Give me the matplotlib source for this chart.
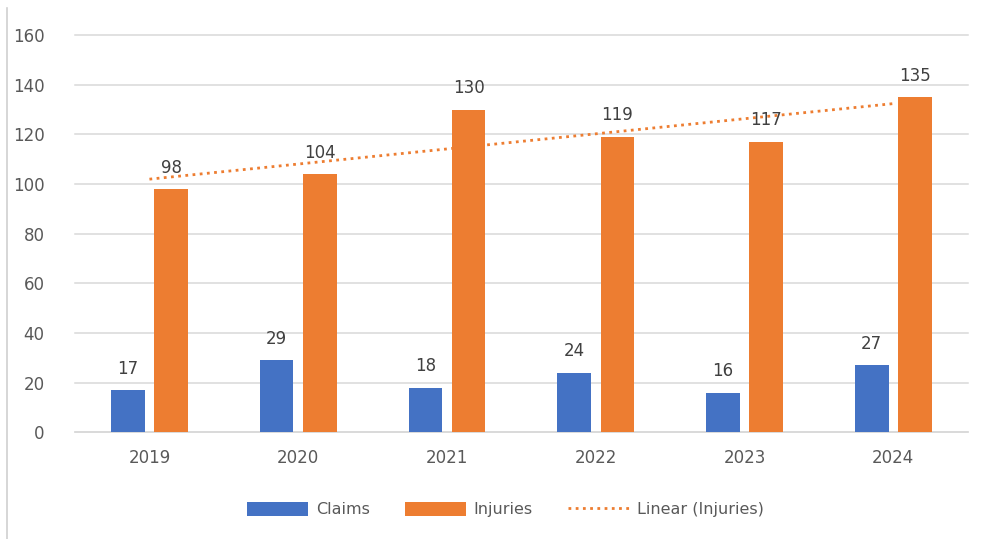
import numpy as np
import matplotlib.pyplot as plt
from matplotlib.lines import Line2D

years = ["2019", "2020", "2021", "2022", "2023", "2024"]
claims = [17, 29, 18, 24, 16, 27]
injuries = [98, 104, 130, 119, 117, 135]

BLUE = "#4472C4"
ORANGE = "#ED7D31"
GRID = "#D9D9D9"
TXT = "#595959"

plt.rcParams['font.family'] = ['DejaVu Sans']

fig = plt.figure(figsize=(9.81, 5.39), dpi=100)
ax = fig.add_axes([0.0765, 0.198, 0.910, 0.737])

x = np.arange(len(years))
w = 0.225
off = 0.145

b1 = ax.bar(x - off, claims, w, color=BLUE, label="Claims", zorder=3)
b2 = ax.bar(x + off, injuries, w, color=ORANGE, label="Injuries", zorder=3)

# linear trendline on injuries (like Excel's)
k, c = np.polyfit(x + 1, injuries, 1)
tl, = ax.plot(x, k * (x + 1) + c, color=ORANGE, linestyle=(0, (1, 1.6)), linewidth=2,
              label="Linear (Injuries)", zorder=4)

for rect, v in zip(b1, claims):
    ax.text(rect.get_x() + rect.get_width() / 2, v + 5, str(v), ha="center", va="bottom",
            fontsize=12, color="#404040", zorder=5)
for rect, v in zip(b2, injuries):
    ax.text(rect.get_x() + rect.get_width() / 2, v + 5, str(v), ha="center", va="bottom",
            fontsize=12, color="#404040", zorder=5)

ax.set_xlim(-0.5, len(years) - 0.5)
ax.set_ylim(0, 160)
ax.set_yticks(range(0, 161, 20))
ax.set_xticks(x)
ax.set_xticklabels(years)
ax.yaxis.grid(True, color=GRID, linewidth=1.1, zorder=0)
for gl in ax.get_ygridlines():
    gl.set_clip_on(False)
ax.tick_params(axis="both", length=0, colors=TXT, labelsize=12)
ax.tick_params(axis="y", pad=22)
ax.tick_params(axis="x", pad=12)
for s in ["top", "right", "left"]:
    ax.spines[s].set_visible(False)
ax.spines["bottom"].set_color(GRID)
ax.spines["bottom"].set_linewidth(1.1)

leg = ax.legend([b1, b2, tl], ["Claims", "Injuries", "Linear (Injuries)"],
                loc="upper center", bbox_to_anchor=(0.482, -0.14), ncol=3, frameon=False,
                fontsize=11.5, handlelength=3.8, handleheight=0.9, columnspacing=2.2,
                handletextpad=0.5)
for t in leg.get_texts():
    t.set_color(TXT)

# thin border on the left edge of the picture
fig.add_artist(Line2D([0.0075, 0.0075], [0.0, 0.985], color="#D0D0D0", linewidth=1.2))

fig.savefig("out.png", dpi=100, facecolor="white")
